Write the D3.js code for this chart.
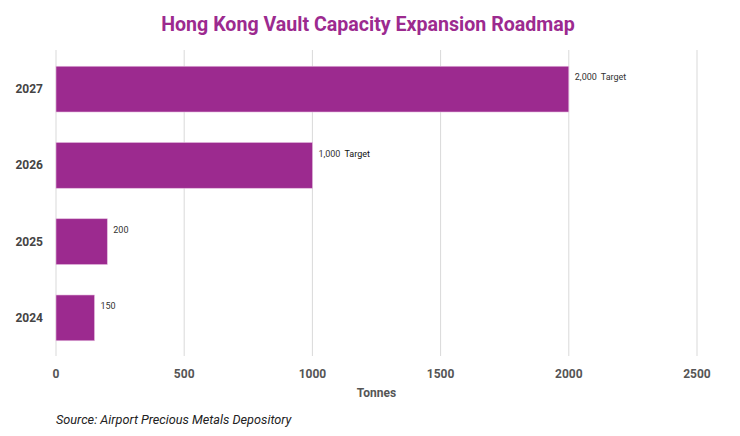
<!DOCTYPE html>
<html lang="en">
<head>
	<script src='https://d3js.org/d3.v7.min.js'></script>
	<style>
		body { margin: 0; background: #fff; }
		text { font-family: Roboto, "Noto Sans", sans-serif; }
	</style>
</head>
<body>
	<script>
    var width = 740,
      height = 436;

    // data
    var years = ['2027', '2026', '2025', '2024'];
    var tonnes = [2000, 1000, 200, 150];
    var labels = ['2,000', '1,000', '200', '150'];
    var notes = ['Target', 'Target', '', ''];
    var ticks = [0, 500, 1000, 1500, 2000, 2500];

    var margin = {top: 51, right: 43, bottom: 80, left: 56};
    var purple = '#9c2a8f';

    var svg = d3.select('body')
      .append('svg')
      .attr('width', width)
      .attr('height', height);

    var x = d3.scaleLinear()
      .domain([0, 2500])
      .range([margin.left, width - margin.right]);

    var y = d3.scaleBand()
      .domain(years)
      .range([margin.top, height - margin.bottom])
      .paddingInner(0.4)
      .paddingOuter(0.2);

    // title
    svg.append('text')
      .attr('x', 368)
      .attr('y', 31)
      .attr('text-anchor', 'middle')
      .attr('fill', purple)
      .attr('font-size', 19.6)
      .attr('font-weight', 'bold')
      .text('Hong Kong Vault Capacity Expansion Roadmap');

    // gridlines
    svg.selectAll('.grid')
      .data(ticks)
      .join('line')
      .attr('class', 'grid')
      .attr('x1', d => x(d))
      .attr('x2', d => x(d))
      .attr('y1', margin.top - 1)
      .attr('y2', height - margin.bottom)
      .attr('stroke', '#d9d9d9')
      .attr('stroke-width', 1);

    // x tick labels
    svg.selectAll('.xt')
      .data(ticks)
      .join('text')
      .attr('class', 'xt')
      .attr('x', d => x(d))
      .attr('y', 378)
      .attr('text-anchor', 'middle')
      .attr('fill', '#555')
      .attr('font-size', 12)
      .attr('font-weight', 'bold')
      .text(d => d);

    svg.append('text')
      .attr('x', (x(0) + x(2500)) / 2)
      .attr('y', 397)
      .attr('text-anchor', 'middle')
      .attr('fill', '#555')
      .attr('font-size', 12)
      .attr('font-weight', 'bold')
      .text('Tonnes');

    // bars
    svg.selectAll('.bar')
      .data(years)
      .join('rect')
      .attr('class', 'bar')
      .attr('x', x(0))
      .attr('y', d => y(d))
      .attr('width', (d, i) => x(tonnes[i]) - x(0))
      .attr('height', y.bandwidth())
      .attr('fill', purple)
      .attr('stroke', '#e3b8dd')
      .attr('stroke-width', 0.6);

    // year labels
    svg.selectAll('.yl')
      .data(years)
      .join('text')
      .attr('class', 'yl')
      .attr('x', 43)
      .attr('y', d => y(d) + y.bandwidth() / 2 + 4)
      .attr('text-anchor', 'end')
      .attr('fill', '#444')
      .attr('font-size', 12)
      .attr('font-weight', 'bold')
      .text(d => d);

    // value labels
    var vl = svg.selectAll('.vl')
      .data(years)
      .join('text')
      .attr('class', 'vl')
      .attr('x', (d, i) => x(tonnes[i]) + 6)
      .attr('y', d => y(d) + 14)
      .attr('fill', '#333')
      .attr('font-size', 9);
    vl.append('tspan').text((d, i) => labels[i]);
    vl.append('tspan')
      .attr('dx', 4)
      .attr('fill', (d, i) => i == 1 ? '#111' : '#333')
      .text((d, i) => notes[i]);

    // source
    svg.append('text')
      .attr('x', 56)
      .attr('y', 424)
      .attr('fill', '#222')
      .attr('font-size', 12.7)
      .attr('font-style', 'italic')
      .text('Source: Airport Precious Metals Depository');
	</script>
</body>
</html>
